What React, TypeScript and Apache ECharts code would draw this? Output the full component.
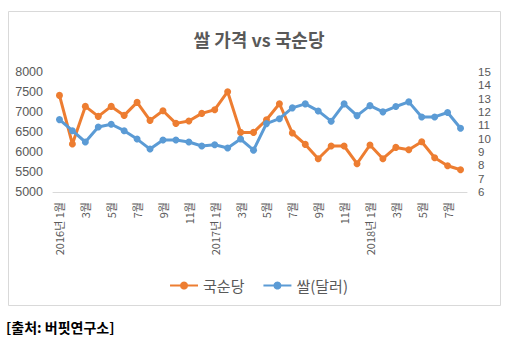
import React, { useEffect, useRef } from "react";
import * as echarts from "echarts";

const categories: string[] = [
  "2016년 1월", "2월", "3월", "4월", "5월", "6월", "7월", "8월", "9월", "10월", "11월", "12월",
  "2017년 1월", "2월", "3월", "4월", "5월", "6월", "7월", "8월", "9월", "10월", "11월", "12월",
  "2018년 1월", "2월", "3월", "4월", "5월", "6월", "7월", "8월",
];

const kuksundang: number[] = [
  7415, 6200, 7140, 6890, 7140, 6915, 7240, 6790, 7030, 6715, 6775, 6965,
  7057, 7508, 6490, 6490, 6807, 7207, 6475, 6190, 5832, 6150, 6150, 5707,
  6175, 5832, 6115, 6057, 6257, 5857, 5657, 5557,
];

const riceUsd: number[] = [
  11.43, 10.6, 9.75, 10.88, 11.08, 10.6, 9.97, 9.22, 9.9, 9.9, 9.75, 9.45,
  9.54, 9.3, 9.97, 9.14, 11.13, 11.5, 12.31, 12.61, 12.08, 11.31, 12.61, 11.73,
  12.48, 12.01, 12.41, 12.76, 11.63, 11.63, 11.96, 10.78,
];

const FONT = "'Noto Sans CJK KR', 'Noto Sans', sans-serif";
const NUMFONT = "'Liberation Sans', 'DejaVu Sans', sans-serif";
const GRAY = "#595959";

export default function App() {
  const ref = useRef<HTMLDivElement>(null);
  useEffect(() => {
    if (!ref.current) return;
    const chart = echarts.init(ref.current, undefined, { renderer: "svg" });
    chart.setOption({
      animation: false,
      backgroundColor: "#ffffff",
      textStyle: { fontFamily: FONT },
      title: {
        text: "쌀 가격 vs 국순당",
        top: 25,
        left: 254,
        textAlign: "center",
        textStyle: { fontFamily: FONT, fontSize: 18, fontWeight: "bold", color: GRAY },
      },
      legend: {
        top: 273,
        left: "center",
        itemWidth: 28,
        itemHeight: 10,
        itemGap: 18,
        textStyle: { fontFamily: FONT, fontSize: 15, color: GRAY },
        data: ["국순당", "쌀(달러)"],
      },
      graphic: [
        {
          type: "rect",
          shape: { x: 8.5, y: 11.5, width: 492, height: 294 },
          style: { fill: "none", stroke: "#d9d9d9", lineWidth: 1 },
          silent: true,
        },
        {
          type: "text",
          x: 6,
          y: 320,
          style: {
            text: "[출처: 버핏연구소]",
            fontFamily: FONT,
            fontSize: 14,
            fontWeight: "bold",
            fill: "#000000",
          },
        },
      ],
      grid: { left: 53, right: 50, top: 72, height: 120, containLabel: false },
      xAxis: {
        type: "category",
        data: categories,
        boundaryGap: true,
        axisLine: { lineStyle: { color: "#d9d9d9" } },
        axisTick: { show: false },
        axisLabel: {
          interval: 1,
          rotate: 90,
          fontFamily: FONT,
          fontSize: 11,
          color: GRAY,
          margin: 10,
        },
      },
      yAxis: [
        {
          type: "value",
          min: 5000,
          max: 8000,
          interval: 500,
          axisLine: { show: false },
          axisTick: { show: false },
          splitLine: { show: false },
          axisLabel: {
            fontFamily: NUMFONT,
            fontSize: 12.5,
            color: GRAY,
            margin: 10,
            formatter: (v: number) => String(v),
          },
        },
        {
          type: "value",
          min: 6,
          max: 15,
          interval: 1,
          position: "right",
          axisLine: { show: false },
          axisTick: { show: false },
          splitLine: { show: false },
          axisLabel: {
            fontFamily: NUMFONT,
            fontSize: 11.5,
            lineHeight: 12,
            color: GRAY,
            margin: 11,
            formatter: (v: number) => String(v),
          },
        },
      ],
      series: [
        {
          name: "국순당",
          type: "line",
          data: kuksundang,
          yAxisIndex: 0,
          symbol: "circle",
          symbolSize: 7,
          color: "#ED7D31",
          lineStyle: { width: 3, color: "#ED7D31" },
          itemStyle: { color: "#ED7D31" },
        },
        {
          name: "쌀(달러)",
          type: "line",
          data: riceUsd,
          yAxisIndex: 1,
          symbol: "circle",
          symbolSize: 7,
          color: "#5B9BD5",
          lineStyle: { width: 3, color: "#5B9BD5" },
          itemStyle: { color: "#5B9BD5" },
        },
      ],
    });
    return () => chart.dispose();
  }, []);
  return (
    <div
      ref={ref}
      style={{ position: "fixed", left: 0, top: 0, width: 517, height: 352 }}
    />
  );
}
